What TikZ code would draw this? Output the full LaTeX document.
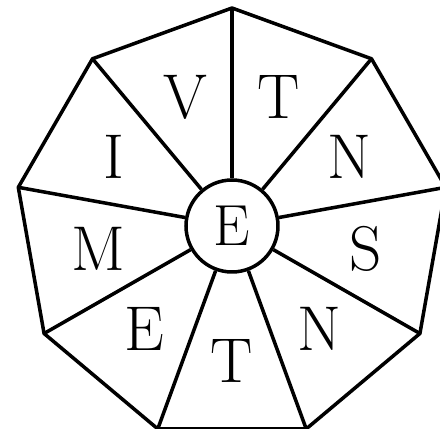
\documentclass[tikz,border=0pt]{standalone}
\usepackage{tikz}
\usetikzlibrary{positioning,calc}
\definecolor{ink}{HTML}{000000}

\begin{document}
\begin{tikzpicture}[x=0.02cm,y=0.02cm,
  rim/.style={ink,line width=2pt,line join=round},
  hub/.style={circle,draw=ink,line width=2pt,minimum size=1.84cm,inner sep=0pt,
    font=\fontsize{33}{33}\selectfont},
  letter/.style={inner sep=0pt,font=\fontsize{36}{36}\selectfont}]
  % frame cut off at right and bottom, as in the drawing
  \useasboundingbox (-232,-204) rectangle (208,225);
  \node[hub] (hub) at (0,-1) {E};
  % corners of the nine-sided rim
  \foreach \i in {0,...,8} {
    \coordinate (v\i) at ({90-40*\i}:217);
  }
  \draw[rim] (v0) -- (v1) -- (v2) -- (v3) -- (v4) -- (v5) -- (v6) -- (v7) -- (v8) -- cycle;
  % spokes from the hub out to each corner
  \foreach \i in {0,...,8} {
    \draw[rim] (hub) -- (v\i);
  }
  % one letter per wedge, clockwise from the top
  \foreach \i/\l in {0/T,1/N,2/S,3/N,4/T,5/E,6/M,7/I,8/V} {
    \node[letter] (w\i) at ({70-40*\i}:136) {\l};
  }
\end{tikzpicture}
\end{document}
